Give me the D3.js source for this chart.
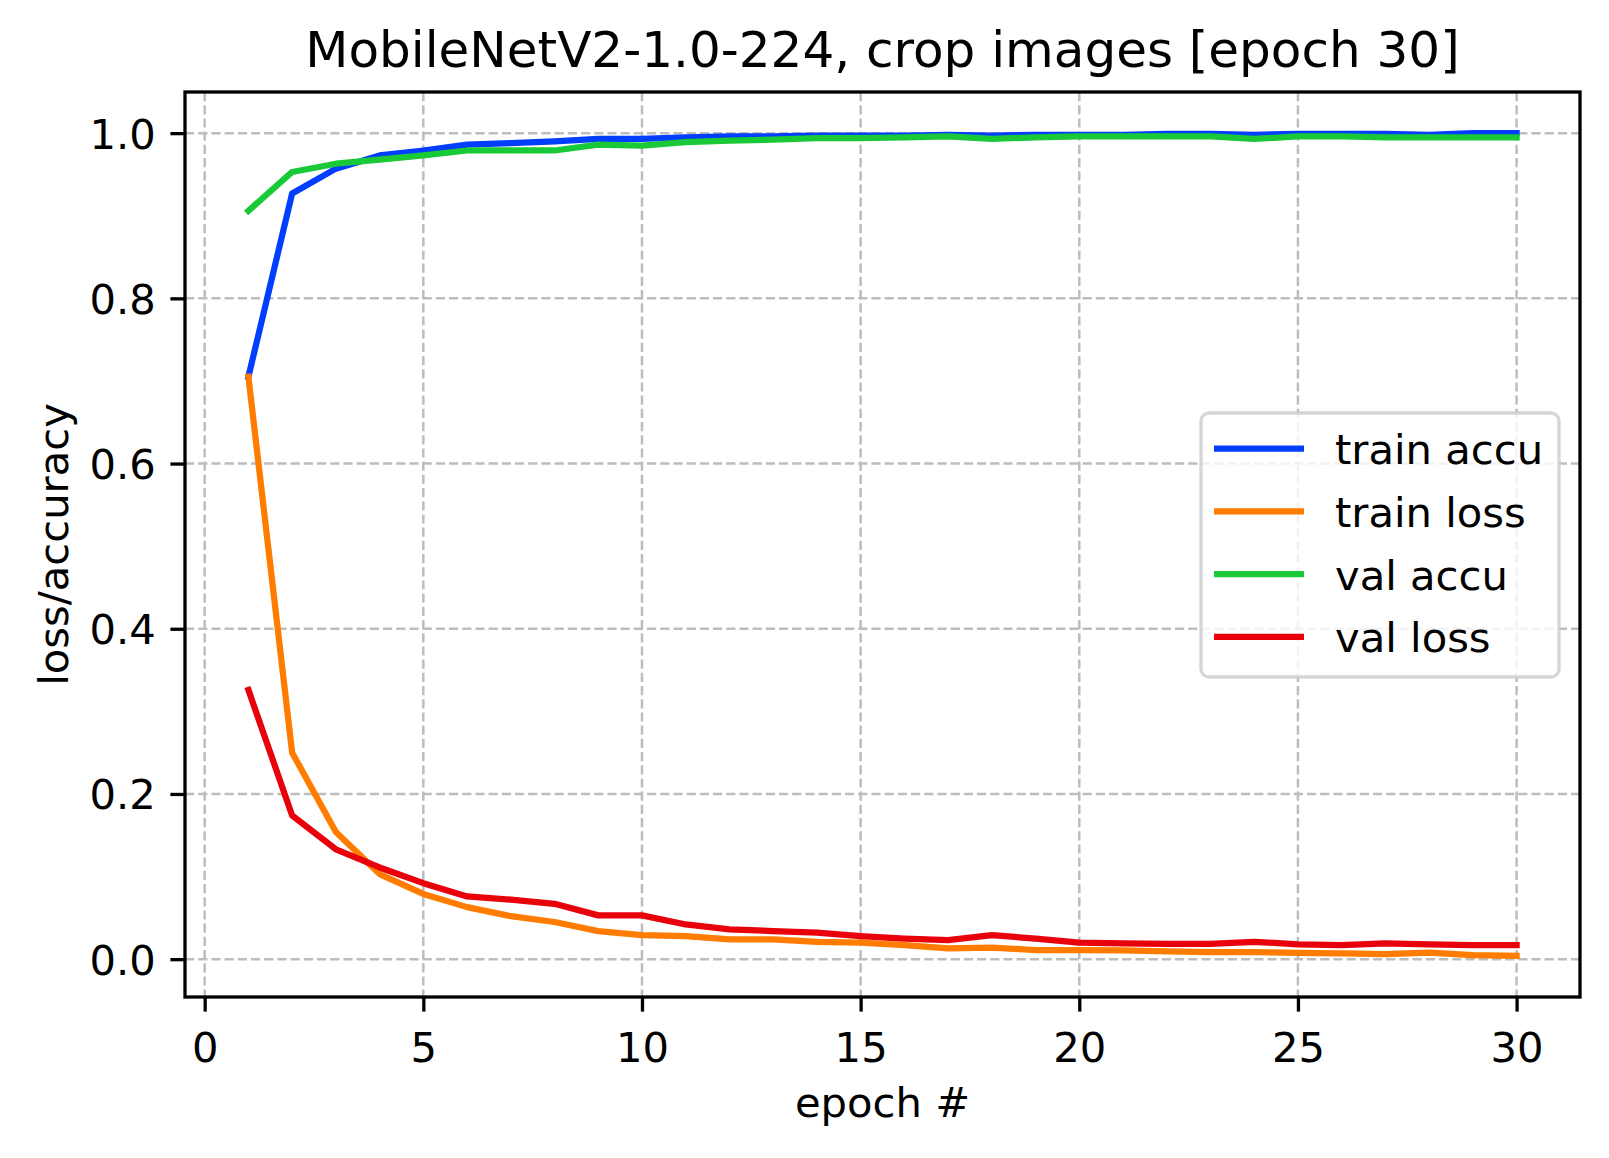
<!DOCTYPE html>
<html>
<head>
<meta charset="utf-8">
<script src="https://d3js.org/d3.v7.min.js"></script>
<style>
  body { margin: 0; background: #fff; }
  svg text { font-family: "DejaVu Sans", sans-serif; fill: #000; }
  .grid line { stroke: #bdbdbd; stroke-width: 2.5; stroke-dasharray: 9.2 4; }
</style>
</head>
<body>
<svg id="chart" width="1609" height="1158"></svg>
<script>
// data
const epochs = d3.range(1, 31);
const trainAccu = [0.705, 0.927, 0.957, 0.973, 0.979, 0.986, 0.988, 0.990, 0.993, 0.993,
                   0.995, 0.996, 0.996, 0.997, 0.997, 0.997, 0.998, 0.997, 0.998, 0.998,
                   0.998, 0.999, 0.999, 0.998, 0.999, 0.999, 0.999, 0.998, 1.000, 1.000];
const trainLoss = [0.705, 0.250, 0.154, 0.103, 0.079, 0.063, 0.052, 0.045, 0.034, 0.029,
                   0.028, 0.024, 0.024, 0.021, 0.020, 0.017, 0.013, 0.014, 0.011, 0.011,
                   0.0105, 0.0093, 0.0085, 0.0085, 0.0077, 0.007, 0.006, 0.008, 0.005, 0.004];
const valAccu   = [0.906, 0.953, 0.963, 0.968, 0.973, 0.979, 0.979, 0.979, 0.986, 0.985,
                   0.989, 0.991, 0.992, 0.994, 0.994, 0.995, 0.996, 0.993, 0.995, 0.996,
                   0.996, 0.996, 0.996, 0.993, 0.996, 0.996, 0.995, 0.995, 0.995, 0.995];
const valLoss   = [0.326, 0.174, 0.133, 0.111, 0.092, 0.076, 0.072, 0.067, 0.053, 0.053,
                   0.042, 0.036, 0.034, 0.032, 0.028, 0.025, 0.023, 0.029, 0.025, 0.020,
                   0.019, 0.0185, 0.0185, 0.021, 0.018, 0.017, 0.019, 0.018, 0.017, 0.017];
const seriesNames = ['train accu', 'train loss', 'val accu', 'val loss'];
const xTicks = [0, 5, 10, 15, 20, 25, 30];
const yTicks = [0.0, 0.2, 0.4, 0.6, 0.8, 1.0];
const title = 'MobileNetV2-1.0-224, crop images [epoch 30]';

const colors = ['#023eff', '#ff7c00', '#1ac938', '#e8000b'];
const series = [trainAccu, trainLoss, valAccu, valLoss].map((vals, i) => ({
  name: seriesNames[i], color: colors[i],
  values: vals.map((v, j) => ({ x: epochs[j], y: v }))
}));

// layout (matplotlib-like, 300 dpi)
const svg = d3.select('#chart');
const box = { left: 185, right: 1580, top: 92, bottom: 997 };
const fs = 41.7;

// 5% margins like matplotlib
const pad = (lo, hi) => { const m = (hi - lo) * 0.05; return [lo - m, hi + m]; };
const allY = series.flatMap(s => s.values.map(d => d.y));
const x = d3.scaleLinear().domain(pad(d3.min(epochs), d3.max(epochs))).range([box.left, box.right]);
const y = d3.scaleLinear().domain(pad(d3.min(allY), d3.max(allY))).range([box.bottom, box.top]);

// grid
const grid = svg.append('g').attr('class', 'grid');
grid.selectAll('.gx').data(xTicks).join('line')
  .attr('x1', d => x(d)).attr('x2', d => x(d))
  .attr('y1', box.top).attr('y2', box.bottom);
grid.selectAll('.gy').data(yTicks).join('line')
  .attr('y1', d => y(d)).attr('y2', d => y(d))
  .attr('x1', box.left).attr('x2', box.right);

// lines
const line = d3.line().x(d => x(d.x)).y(d => y(d.y));
svg.append('g').selectAll('path').data(series).join('path')
  .attr('fill', 'none')
  .attr('stroke', d => d.color)
  .attr('stroke-width', 6.25)
  .attr('stroke-linejoin', 'round')
  .attr('stroke-linecap', 'square')
  .attr('d', d => line(d.values));

// axes
const xAxis = svg.append('g')
  .attr('transform', `translate(0,${box.bottom})`)
  .call(d3.axisBottom(x).tickValues(xTicks).tickFormat(d3.format('d'))
    .tickSize(14.6).tickPadding(14.6).tickSizeOuter(0));
const yAxis = svg.append('g')
  .attr('transform', `translate(${box.left},0)`)
  .call(d3.axisLeft(y).tickValues(yTicks).tickFormat(d3.format('.1f'))
    .tickSize(14.6).tickPadding(14.6).tickSizeOuter(0));
[xAxis, yAxis].forEach(a => {
  a.select('.domain').remove();
  a.selectAll('.tick line').attr('stroke', '#000').attr('stroke-width', 3.3);
  a.selectAll('.tick text').attr('font-size', fs).attr('font-family', 'DejaVu Sans');
});
xAxis.selectAll('.tick text').attr('dy', null).attr('y', 65);
yAxis.selectAll('.tick text').attr('dy', '0.36em');

// frame
svg.append('rect')
  .attr('x', box.left).attr('y', box.top)
  .attr('width', box.right - box.left).attr('height', box.bottom - box.top)
  .attr('fill', 'none').attr('stroke', '#000').attr('stroke-width', 3.3);

// labels
svg.append('text')
  .attr('x', (box.left + box.right) / 2).attr('y', 67)
  .attr('text-anchor', 'middle').attr('font-size', 50)
  .text(title);
svg.append('text')
  .attr('x', (box.left + box.right) / 2).attr('y', 1117)
  .attr('text-anchor', 'middle').attr('font-size', fs)
  .text('epoch #');
svg.append('text')
  .attr('transform', `translate(68,${(box.top + box.bottom) / 2}) rotate(-90)`)
  .attr('text-anchor', 'middle').attr('font-size', fs)
  .text('loss/accuracy');

// legend
const lg = svg.append('g').attr('transform', 'translate(1201,413)');
lg.append('rect')
  .attr('width', 358).attr('height', 264).attr('rx', 8)
  .attr('fill', '#fff').attr('fill-opacity', 0.8)
  .attr('stroke', '#cccccc').attr('stroke-opacity', 0.8).attr('stroke-width', 3.3);
const item = lg.selectAll('.item').data(series).join('g')
  .attr('transform', (d, i) => `translate(0,${35.5 + i * 62.8})`);
item.append('line')
  .attr('x1', 13).attr('x2', 103)
  .attr('stroke', d => d.color).attr('stroke-width', 6.25);
item.append('text')
  .attr('x', 134).attr('y', 15.5)
  .attr('font-size', fs)
  .text(d => d.name);
</script>
</body>
</html>
